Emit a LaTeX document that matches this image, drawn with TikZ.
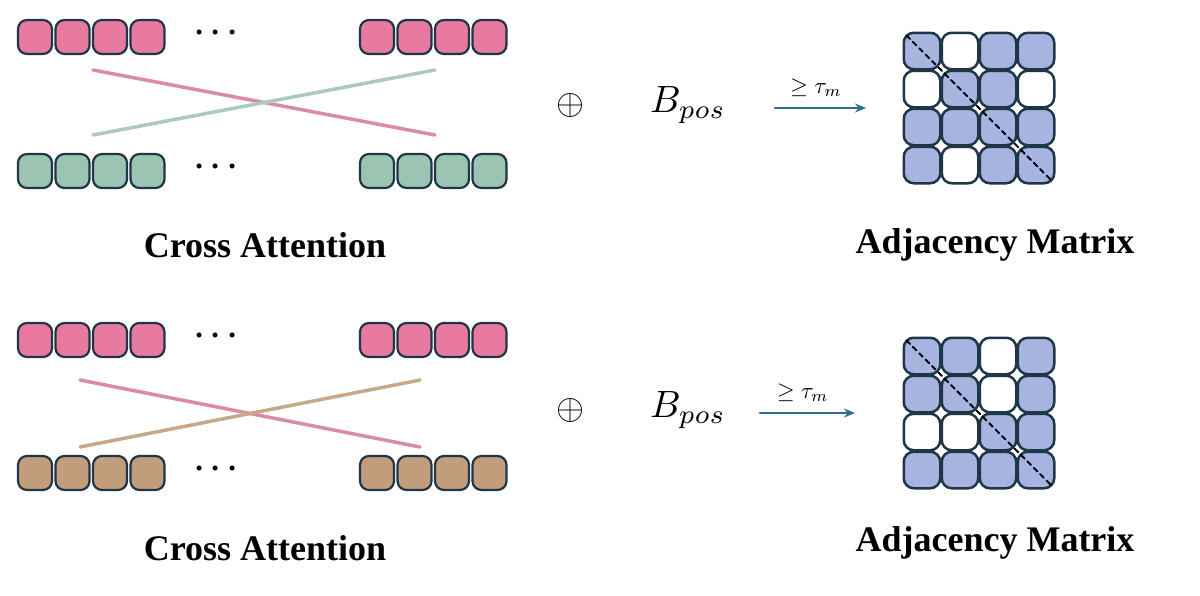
\documentclass[tikz,border=0pt]{standalone}
\usepackage{amsmath,amssymb}
\usepackage{fontspec}
\setmainfont{Liberation Serif}
\usepackage{tikz}
\usetikzlibrary{arrows.meta,positioning,calc}
\definecolor{tokpink}{HTML}{E8799F}
\definecolor{tokgreen}{HTML}{9CC4B2}
\definecolor{tokbrown}{HTML}{C29D7C}
\definecolor{cellblue}{HTML}{A8B4E0}
\definecolor{edge}{HTML}{1E3646}
\definecolor{arrowblue}{HTML}{2F6F8F}
\definecolor{linkpink}{HTML}{DB8AA8}
\definecolor{linkgreen}{HTML}{A9CBBB}
\definecolor{linktan}{HTML}{C7A98A}
\tikzset{
  tok/.style={draw=edge,line width=2.2pt,rounded corners=9pt,minimum size=34pt,inner sep=0pt},
  cell/.style={draw=edge,line width=2.5pt,rounded corners=10pt,minimum size=36.5pt,inner sep=0pt},
  link/.style={line width=3.5pt},
  lbl/.style={font=\fontsize{36}{40}\selectfont\bfseries},
}
\begin{document}
\begin{tikzpicture}[x=1pt,y=-1pt,line cap=round,line join=round]
\useasboundingbox (0,0) rectangle (1200,595);

% token rows: y, colour, name
\foreach \y/\c/\n in {37/tokpink/ta,171/tokgreen/tb,340/tokpink/tc,473/tokbrown/td}{
  \foreach \i/\x in {1/35,2/72.5,3/110,4/147.5,5/377,6/414.5,7/452,8/489.5}
    \node[tok,fill=\c] (\n\i) at (\x,\y) {};
  \node[scale=3.2,transform shape] (\n dots) at (219,\y-4) {$\boldsymbol{\cdots}$};
}

% links between the rows
\coordinate (pa) at (93,70);   \coordinate (pb) at (435,135);
\coordinate (ga) at (93,135);  \coordinate (gb) at (435,70);
\draw[link,linkpink] (pa) -- (pb);
\draw[link,linkgreen] (ga) -- (gb);
\coordinate (qa) at (80,380);  \coordinate (qb) at (420,447);
\coordinate (ra) at (80,447);  \coordinate (rb) at (420,380);
\draw[link,linkpink] (qa) -- (qb);
\draw[link,linktan] (ra) -- (rb);

\node[lbl] (catt1) at (265,245) {Cross Attention};
\node[lbl] (catt2) at (265,548) {Cross Attention};

% oplus, bias and threshold arrow
\foreach \y/\n/\xa/\xb in {105/1/775/866,410/2/760/855}{
  \node[scale=3.6,transform shape] (op\n) at (570,\y) {$\oplus$};
  \node[scale=3.8,transform shape] (bp\n) at (688,\y) {$B_{pos}$};
  \coordinate (as\n) at (\xa,\y+3);
  \coordinate (ae\n) at (\xb,\y+3);
  \draw[arrowblue,line width=2.5pt,-{Stealth[length=11pt,width=9pt]}] (as\n) -- (ae\n);
  \node[scale=2.3,transform shape,above=3pt] (th\n) at ($(as\n)!0.45!(ae\n)$) {$\geq\tau_m$};
}

% adjacency matrices
\foreach \r/\row in {1/{1,0,1,1},2/{0,1,1,0},3/{1,1,1,1},4/{1,0,1,1}}{
  \foreach \v [count=\k] in \row{
    \ifnum\v=1 \def\fc{cellblue}\else\def\fc{white}\fi
    \node[cell,fill=\fc] (ma\r\k) at (903+38*\k-19,32+38*\r-19) {};
  }
}
\foreach \r/\row in {1/{1,1,0,1},2/{1,1,0,1},3/{0,0,1,1},4/{1,1,1,1}}{
  \foreach \v [count=\k] in \row{
    \ifnum\v=1 \def\fc{cellblue}\else\def\fc{white}\fi
    \node[cell,fill=\fc] (mb\r\k) at (903+38*\k-19,337+38*\r-19) {};
  }
}
\draw[line width=2pt,dash pattern=on 5pt off 4pt] ($(ma11.north west)+(4,4)$) -- ($(ma44.south east)+(-4,-4)$);
\draw[line width=2pt,dash pattern=on 5pt off 4pt] ($(mb11.north west)+(4,4)$) -- ($(mb44.south east)+(-4,-4)$);

\node[lbl] (adj1) at (995,245) {Adjacency Matrix};
\node[lbl] (adj2) at (995,543) {Adjacency Matrix};
\end{tikzpicture}
\end{document}
